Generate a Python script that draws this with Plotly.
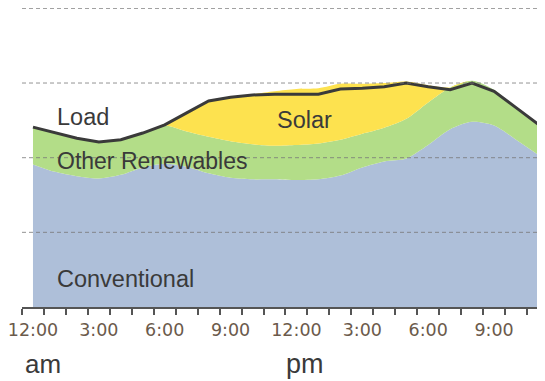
import plotly.graph_objects as go

hours = list(range(24))
tick_hours = [0, 3, 6, 9, 12, 15, 18, 21]
tick_labels = ["12:00", "3:00", "6:00", "9:00", "12:00", "3:00", "6:00", "9:00"]

conventional = [1.91, 1.81, 1.75, 1.72, 1.77, 1.87, 1.92, 1.88, 1.79, 1.73, 1.71, 1.71,
                1.70, 1.71, 1.76, 1.87, 1.95, 1.99, 2.17, 2.38, 2.48, 2.43, 2.24, 2.04]
other_renewables = [0.50, 0.52, 0.51, 0.49, 0.47, 0.47, 0.51, 0.47, 0.49, 0.49, 0.47, 0.45,
                    0.47, 0.48, 0.48, 0.45, 0.45, 0.53, 0.57, 0.56, 0.55, 0.48, 0.43, 0.41]
solar = [0, 0, 0, 0, 0, 0, 0.02, 0.25, 0.48, 0.59, 0.67, 0.73,
         0.75, 0.74, 0.75, 0.67, 0.60, 0.50, 0.23, 0, 0, 0, 0, 0]
load = [2.41, 2.33, 2.26, 2.21, 2.24, 2.33, 2.44, 2.60, 2.76, 2.81, 2.84, 2.85,
        2.85, 2.85, 2.92, 2.93, 2.95, 3.00, 2.95, 2.91, 3.00, 2.89, 2.67, 2.45]
grid_levels = [1, 2, 3, 4]

C_BLUE = "#aebfd9"
C_GREEN = "#b3dd88"
C_YELLOW = "#fde24f"
C_LINE = "#3a3a3a"
TXT = "#3a3a3a"

fig = go.Figure()
for name, vals, col in [("Conventional", conventional, C_BLUE),
                        ("Other Renewables", other_renewables, C_GREEN),
                        ("Solar", solar, C_YELLOW)]:
    fig.add_trace(go.Scatter(x=hours, y=vals, name=name, stackgroup="s", mode="lines",
                             line=dict(width=0, shape="spline", smoothing=0.8),
                             fillcolor=col, hoverinfo="skip"))
fig.add_trace(go.Scatter(x=hours, y=load, name="Load", mode="lines",
                         line=dict(color=C_LINE, width=3)))

shapes = [dict(type="line", xref="paper", x0=0, x1=1, yref="y", y0=g, y1=g,
               layer="above", line=dict(color="rgba(120,120,120,0.8)", width=1, dash="4px,3px"))
          for g in grid_levels]

FAM = "Liberation Sans, Arial, sans-serif"
lab_font = dict(family=FAM, size=23.5, color=TXT)
annotations = [
    dict(x=1.0, y=2.55, text="Load", xanchor="left", yanchor="middle", showarrow=False, font=lab_font),
    dict(x=12.37, y=2.51, text="Solar", xanchor="center", yanchor="middle", showarrow=False, font=lab_font),
    dict(x=1.0, y=1.96, text="Other Renewables", xanchor="left", yanchor="middle", showarrow=False,
         font=dict(family=FAM, size=23, color=TXT)),
    dict(x=1.0, y=0.37, text="Conventional", xanchor="left", yanchor="middle", showarrow=False, font=lab_font),
    dict(x=-0.45, y=-0.192, yref="paper", text="am", xanchor="left", yanchor="middle", showarrow=False,
         font=dict(family=FAM, size=26, color=TXT)),
    dict(x=11.41, y=-0.192, yref="paper", text="pm", xanchor="left", yanchor="middle", showarrow=False,
         font=dict(family=FAM, size=27, color=TXT)),
]

# page has an 8px body margin, so the figure is sized/offset to compensate
fig.update_layout(
    width=537, height=373,
    margin=dict(l=14, r=0, t=0, b=74),
    paper_bgcolor="white", plot_bgcolor="white",
    showlegend=False,
    shapes=shapes,
    annotations=annotations,
    xaxis=dict(range=[-0.5, 23.32], showgrid=False, zeroline=False,
               showline=True, linecolor="#555555", linewidth=2,
               tickmode="array", tickvals=tick_hours, ticktext=tick_labels, ticks="",
               ticklabelstandoff=6, ticklabeloverflow="allow",
               tickfont=dict(family="DejaVu Sans, sans-serif", size=17.5, color="#6b5a4b"),
               minor=dict(tickmode="linear", tick0=-0.5, dtick=1, ticks="outside",
                          ticklen=6, tickcolor="#555555", tickwidth=1.5, showgrid=False)),
    yaxis=dict(range=[0, 4.005], visible=False, showgrid=False, zeroline=False),
)

fig.write_html("out.html")
